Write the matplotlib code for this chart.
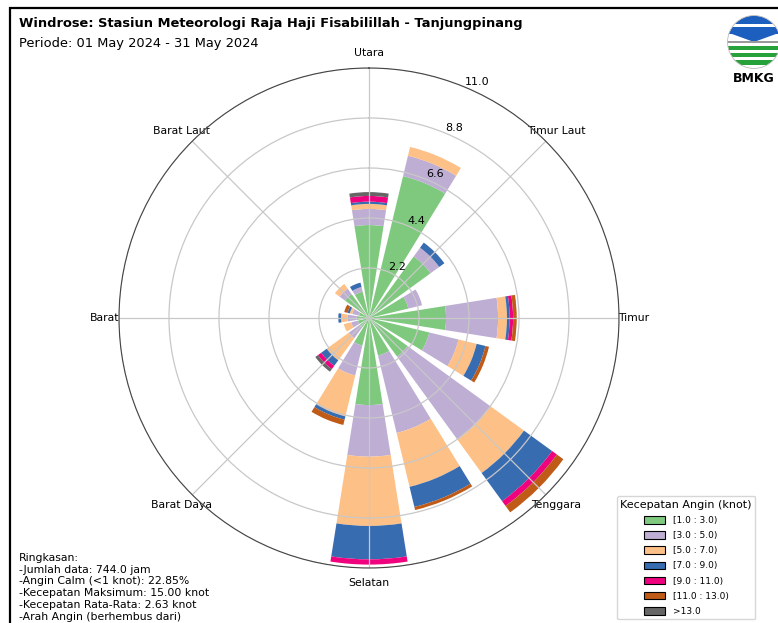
import numpy as np
import matplotlib
matplotlib.use("Agg")
import matplotlib.pyplot as plt
from matplotlib.patches import Patch, Rectangle, Circle, Wedge

# arah angin (16 sektor), dalam derajat dari utara
directions = ["N", "NNE", "NE", "ENE", "E", "ESE", "SE", "SSE",
              "S", "SSW", "SW", "WSW", "W", "WNW", "NW", "NNW"]
dir_deg = [0.0, 22.5, 45.0, 67.5, 90.0, 112.5, 135.0, 157.5,
           180.0, 202.5, 225.0, 247.5, 270.0, 292.5, 315.0, 337.5]

# frekuensi (%) tiap kelas kecepatan per arah
spd_1_3 = [4.09, 6.42, 3.35, 1.78, 3.39, 2.73, 2.10, 1.70, 3.83, 1.25, 0.50, 0.50, 0.54, 0.45, 1.30, 1.19]
spd_3_5 = [0.71, 0.92, 0.47, 0.62, 2.29, 1.32, 4.52, 3.50, 2.27, 1.35, 0.60, 0.30, 0.41, 0.31, 0.30, 0.21]
spd_5_7 = [0.22, 0.40, 0.00, 0.00, 0.39, 0.82, 1.81, 2.44, 3.05, 1.85, 1.20, 0.34, 0.28, 0.11, 0.25, 0.00]
spd_7_9 = [0.10, 0.00, 0.28, 0.00, 0.12, 0.40, 1.53, 0.91, 1.47, 0.15, 0.30, 0.00, 0.12, 0.10, 0.00, 0.20]
spd_9_11 = [0.25, 0.00, 0.00, 0.00, 0.15, 0.00, 0.26, 0.00, 0.23, 0.00, 0.18, 0.00, 0.00, 0.00, 0.00, 0.00]
spd_11_13 = [0.00, 0.00, 0.00, 0.00, 0.16, 0.16, 0.35, 0.14, 0.00, 0.24, 0.00, 0.00, 0.00, 0.15, 0.00, 0.00]
spd_13 = [0.17, 0.00, 0.00, 0.00, 0.00, 0.00, 0.00, 0.00, 0.00, 0.00, 0.14, 0.00, 0.00, 0.00, 0.00, 0.00]

bin_labels = ["[1.0 : 3.0)", "[3.0 : 5.0)", "[5.0 : 7.0)", "[7.0 : 9.0)",
              "[9.0 : 11.0)", "[11.0 : 13.0)", ">13.0"]
bin_colors = ["#7fc97f", "#beaed4", "#fdc086", "#386cb0", "#f0027f", "#bf5b17", "#666666"]

compass_ticks = [0, 45, 90, 135, 180, 225, 270, 315]
compass_labels = ["Utara", "Timur Laut", "Timur", "Tenggara",
                  "Selatan", "Barat Daya", "Barat", "Barat Laut"]
r_ticks = [2.2, 4.4, 6.6, 8.8, 11.0]

summary = ("Ringkasan:\n"
           "-Jumlah data: 744.0 jam\n"
           "-Angin Calm (<1 knot): 22.85%\n"
           "-Kecepatan Maksimum: 15.00 knot\n"
           "-Kecepatan Rata-Rata: 2.63 knot\n"
           "-Arah Angin (berhembus dari)")

fig = plt.figure(figsize=(7.78, 6.23), dpi=100)
ax = fig.add_axes([119 / 778, 55 / 623, 500 / 778, 500 / 623], projection="polar")
ax.set_theta_zero_location("N")
ax.set_theta_direction(-1)

theta = np.deg2rad(dir_deg)
width = np.deg2rad(22.5) * 0.8
bottom = np.zeros(len(dir_deg))
series = [spd_1_3, spd_3_5, spd_5_7, spd_7_9, spd_9_11, spd_11_13, spd_13]
for vals, col in zip(series, bin_colors):
    vals = np.array(vals)
    ax.bar(theta, vals, width=width, bottom=bottom, color=col, linewidth=0)
    bottom = bottom + vals

ax.set_ylim(0, 11.0)
ax.set_rgrids(r_ticks, ["%.1f" % r for r in r_ticks], angle=22.5, fontsize=8)
ax.set_thetagrids(compass_ticks, compass_labels, fontsize=7.8)
ax.tick_params(axis="x", pad=0)
ax.grid(True, color="#c8c8c8", linewidth=0.9)
ax.spines["polar"].set_color("#444444")

fig.text(19 / 778, 1 - 24 / 623, "Windrose: Stasiun Meteorologi Raja Haji Fisabilillah - Tanjungpinang",
         fontsize=9.4, fontweight="bold", va="center", ha="left")
fig.text(19 / 778, 1 - 44 / 623, "Periode: 01 May 2024 - 31 May 2024",
         fontsize=9.4, va="center", ha="left")
fig.text(19 / 778, 1 / 623, summary, fontsize=7.8, va="bottom", ha="left", linespacing=1.23)

handles = [Patch(facecolor=c, edgecolor="black", linewidth=0.8) for c in bin_colors]
fig.legend(handles, bin_labels, title="Kecepatan Angin (knot)", loc="lower right",
           bbox_to_anchor=(760 / 778, -1 / 623), fontsize=6.5, title_fontsize=8,
           labelspacing=0.68, handlelength=2.4, handleheight=0.9)

# bingkai gambar
fig.patches.append(Rectangle((10 / 778, -0.05), 1.0, 1 - 8 / 623 + 0.05, transform=fig.transFigure,
                             fill=False, edgecolor="black", linewidth=1.6))

# logo BMKG sederhana
lax = fig.add_axes([727 / 778, 1 - 70 / 623, 54 / 778, 56 / 623])
lax.set_xlim(-1, 1)
lax.set_ylim(-1, 1)
lax.set_aspect("equal")
lax.axis("off")
clip = Circle((0, 0), 0.98, transform=lax.transData)
lax.add_patch(Wedge((0, 0), 0.98, 20, 160, facecolor="#1d5fbf", edgecolor="none", clip_path=clip))
for y0, h, c in [(0.55, 0.12, "white"), (0.3, 0.12, "#1d5fbf"), (-0.05, 0.08, "#9a9a9a"),
                 (-0.3, 0.15, "#27a13a"), (-0.55, 0.15, "#27a13a"), (-0.85, 0.2, "#27a13a")]:
    r = Rectangle((-1, y0), 2, h, facecolor=c, edgecolor="none")
    lax.add_patch(r)
    r.set_clip_path(clip)
lax.add_patch(Circle((0, 0), 0.98, fill=False, edgecolor="#bbbbbb", linewidth=0.6))
fig.text(754 / 778, 1 - 78 / 623, "BMKG", fontsize=9, fontweight="bold", ha="center", va="center")

fig.savefig("out.png", dpi=100)
